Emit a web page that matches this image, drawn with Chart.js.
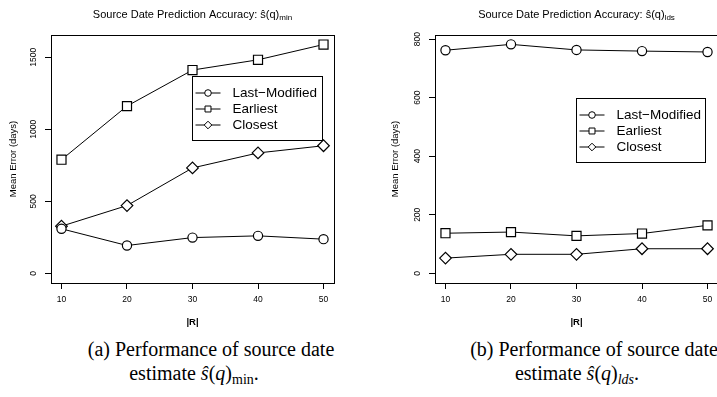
<!DOCTYPE html>
<html>
<head>
<meta charset="utf-8">
<script src="https://cdn.jsdelivr.net/npm/chart.js@4.4.0/dist/chart.umd.min.js"></script>
<style>
html, body { margin: 0; padding: 0; background: #fff; width: 717px; height: 397px; overflow: hidden; }
.panel { position: absolute; top: 0; }
.cap { position: absolute; width: 360px; text-align: center; white-space: nowrap; font-family: "Liberation Serif", "DejaVu Serif", serif; font-size: 20px; line-height: 24px; color: #000; }
.cap sub { font-size: 70%; line-height: 0; vertical-align: -0.3em; }
</style>
</head>
<body>
<div class="panel" style="left:0px"><canvas id="chartMin" width="358" height="335"></canvas></div>
<div class="panel" style="left:384px"><canvas id="chartLds" width="358" height="335"></canvas></div>
<div class="cap" style="left:31px;top:337px">(a) Performance of source date</div>
<div class="cap" style="left:14px;top:361px">estimate <i>ŝ</i>(<i>q</i>)<sub>min</sub>.</div>
<div class="cap" style="left:414px;top:337px">(b) Performance of source date</div>
<div class="cap" style="left:397px;top:361px">estimate <i>ŝ</i>(<i>q</i>)<sub><i>lds</i></sub>.</div>
<script>
// |R| values on the x axis
var rSizes = [10, 20, 30, 40, 50];
var seriesNames = ["Last\u2212Modified", "Earliest", "Closest"];

// mean error (days) for s^(q)_min
var minLastModified = [310, 194, 249, 261, 238];
var minEarliest = [789, 1161, 1411, 1482, 1588];
var minClosest = [328, 471, 732, 836, 886];
var minTicks = [0, 500, 1000, 1500];

// mean error (days) for s^(q)_lds
var ldsLastModified = [762, 782, 763, 759, 756];
var ldsEarliest = [137, 141, 128, 136, 164];
var ldsClosest = [52, 65, 65, 84, 84];
var ldsTicks = [0, 200, 400, 600, 800];

var FONT = '"Liberation Sans", Arial, Helvetica, sans-serif';
var markers = [
    { pointStyle: "circle", pointRadius: 4.6, legendRadius: 3.3 },
    { pointStyle: "rect", pointRadius: 6.4, legendRadius: 4.2 },
    { pointStyle: "rectRot", pointRadius: 5.8, legendRadius: 3.8 }
];

function drawMark(ctx, style, x, y, r) {
    ctx.beginPath();
    if (style === "circle") {
        ctx.arc(x, y, r, 0, Math.PI * 2);
    } else if (style === "rect") {
        var s = r * Math.SQRT1_2;
        ctx.rect(x - s, y - s, 2 * s, 2 * s);
    } else {
        ctx.moveTo(x - r, y); ctx.lineTo(x, y - r); ctx.lineTo(x + r, y); ctx.lineTo(x, y + r); ctx.closePath();
    }
    ctx.fill();
    ctx.stroke();
}

var decor = {
    id: "decor",
    afterDraw: function (chart, args, opts) {
        var a = chart.chartArea, ctx = chart.ctx;
        ctx.save();
        ctx.strokeStyle = "#000";
        ctx.fillStyle = "#000";
        ctx.lineWidth = 1;
        // box around the plot region
        ctx.strokeRect(Math.round(a.left) + 0.5, Math.round(a.top) + 0.5, Math.round(a.right - a.left), Math.round(a.bottom - a.top));

        // title with subscript
        ctx.font = "11px " + FONT;
        var w1 = ctx.measureText(opts.title).width;
        ctx.font = "8px " + FONT;
        var w2 = ctx.measureText(opts.sub).width;
        var x0 = (a.left + a.right) / 2 - (w1 + w2) / 2;
        ctx.textBaseline = "alphabetic";
        ctx.textAlign = "left";
        ctx.font = "11px " + FONT;
        ctx.fillText(opts.title, x0, 17.5);
        ctx.font = "8px " + FONT;
        ctx.fillText(opts.sub, x0 + w1, 20);

        // legend box
        var lx = Math.round(a.left + opts.legendX) + 0.5, ly = Math.round(a.top + opts.legendY) + 0.5;
        ctx.fillStyle = "#fff";
        ctx.fillRect(lx, ly, opts.legendW, opts.legendH);
        ctx.strokeRect(lx, ly, opts.legendW, opts.legendH);
        ctx.font = "13.5px " + FONT;
        ctx.textBaseline = "middle";
        chart.data.datasets.forEach(function (ds, i) {
            var cy = ly + 16.5 + i * 16;
            ctx.beginPath();
            ctx.moveTo(lx + 3, cy);
            ctx.lineTo(lx + 28, cy);
            ctx.stroke();
            ctx.fillStyle = "#fff";
            drawMark(ctx, ds.pointStyle, lx + 15.5, cy, ds.legendRadius);
            ctx.fillStyle = "#000";
            ctx.fillText(ds.label, lx + 40, cy + 0.5);
        });
        ctx.restore();
    }
};

function plainLabel(v) { return String(v); }

function buildChart(id, values, yTicks, yMin, yMax, deco, yTitlePad, yTickPad) {
    var datasets = values.map(function (vals, i) {
        return {
            label: seriesNames[i],
            data: rSizes.map(function (r, j) { return { x: r, y: vals[j] }; }),
            borderColor: "#000",
            borderWidth: 1,
            pointStyle: markers[i].pointStyle,
            pointRadius: markers[i].pointRadius,
            legendRadius: markers[i].legendRadius,
            pointBackgroundColor: "#fff",
            pointBorderColor: "#000",
            pointBorderWidth: 1.2,
            tension: 0,
            clip: false
        };
    });
    return new Chart(document.getElementById(id), {
        type: "line",
        data: { datasets: datasets },
        options: {
            responsive: false,
            animation: false,
            devicePixelRatio: 1,
            events: [],
            layout: { padding: { left: 0, right: 24, top: 35, bottom: 0 } },
            plugins: {
                legend: { display: false },
                tooltip: { enabled: false },
                decor: deco
            },
            scales: {
                x: {
                    type: "linear",
                    min: 8.4,
                    max: 51.6,
                    afterBuildTicks: function (s) { s.ticks = rSizes.map(function (v) { return { value: v }; }); },
                    afterFit: function (s) { s.height = 52; },
                    grid: { drawOnChartArea: false, tickLength: 6, tickColor: "#000", color: "#000" },
                    border: { color: "#000", width: 1 },
                    ticks: { font: { family: FONT, size: 8.5 }, color: "#000", padding: 5.5, maxRotation: 0, autoSkip: false, callback: plainLabel },
                    title: { display: true, text: "|R|", color: "#000", font: { family: FONT, size: 9.5, weight: "bold" }, padding: { top: 0, bottom: 7 } }
                },
                y: {
                    type: "linear",
                    min: yMin,
                    max: yMax,
                    afterBuildTicks: function (s) { s.ticks = yTicks.map(function (v) { return { value: v }; }); },
                    afterFit: function (s) { s.width = 51; },
                    grid: { drawOnChartArea: false, tickLength: 6, tickColor: "#000", color: "#000" },
                    border: { color: "#000", width: 1 },
                    ticks: { font: { family: FONT, size: 8.5 }, color: "#000", padding: yTickPad, minRotation: 90, maxRotation: 90, crossAlign: "center", autoSkip: false, callback: plainLabel },
                    title: { display: true, text: "Mean Error (days)", color: "#000", font: { family: FONT, size: 9.5 }, padding: { top: yTitlePad, bottom: 0 } }
                }
            }
        },
        plugins: [decor]
    });
}

buildChart("chartMin", [minLastModified, minEarliest, minClosest], minTicks, -66, 1654,
    { title: "Source Date Prediction Accuracy: \u015D(q)", sub: "min", legendX: 141, legendY: 41, legendW: 130, legendH: 64 },
    7.3, 1.6);
buildChart("chartLds", [ldsLastModified, ldsEarliest, ldsClosest], ldsTicks, -33, 814,
    { title: "Source Date Prediction Accuracy: \u015D(q)", sub: "lds", legendX: 141, legendY: 63, legendW: 129, legendH: 64 },
    5.3, 4.5);
</script>
</body>
</html>
